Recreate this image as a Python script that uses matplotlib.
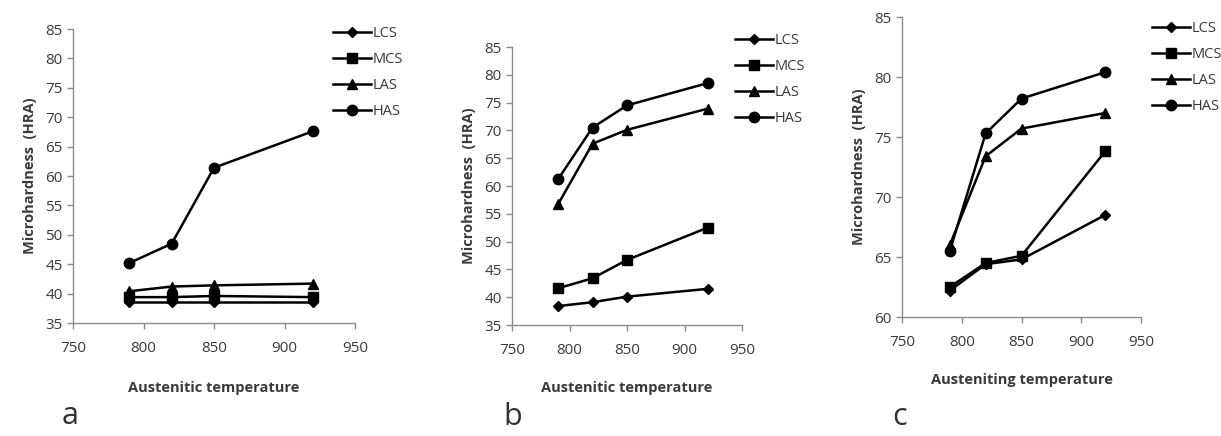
import matplotlib
matplotlib.use("Agg")
import matplotlib.pyplot as plt

plt.rcParams['font.family'] = ['Open Sans', 'DejaVu Sans']

temps = [790, 820, 850, 920]
series = ["LCS", "MCS", "LAS", "HAS"]
markers = {"LCS": "D", "MCS": "s", "LAS": "^", "HAS": "o"}
msizes = {"LCS": 5, "MCS": 7, "LAS": 7, "HAS": 7.5}

# panel a
a_lcs = [38.5, 38.5, 38.5, 38.5]
a_mcs = [39.4, 39.4, 39.6, 39.4]
a_las = [40.4, 41.2, 41.4, 41.7]
a_has = [45.2, 48.5, 61.4, 67.6]
# panel b
b_lcs = [38.4, 39.1, 40.1, 41.5]
b_mcs = [41.6, 43.4, 46.7, 52.5]
b_las = [56.7, 67.6, 70.1, 73.9]
b_has = [61.2, 70.5, 74.5, 78.5]
# panel c
c_lcs = [62.2, 64.4, 64.8, 68.5]
c_mcs = [62.5, 64.5, 65.1, 73.8]
c_las = [66.0, 73.4, 75.7, 77.0]
c_has = [65.5, 75.3, 78.2, 80.4]

xlabels = ["Austenitic temperature", "Austenitic temperature", "Austeniting temperature"]
letters = ["a", "b", "c"]

W, H = 1221, 436
fig = plt.figure(figsize=(W / 100, H / 100), dpi=100)

def px(l, t, r, b):
    return [l / W, 1 - b / H, (r - l) / W, (b - t) / H]

panels = [
    dict(rect=px(73, 29, 355, 323), data=[a_lcs, a_mcs, a_las, a_has], ylim=(35, 85), yticks=range(35, 86, 5),
         leg=(333, 26), letter=(62, 424), xl_y=388),
    dict(rect=px(512, 47, 742, 325), data=[b_lcs, b_mcs, b_las, b_has], ylim=(35, 85), yticks=range(35, 86, 5),
         leg=(735, 33), letter=(503, 425), xl_y=388),
    dict(rect=px(902, 17, 1141, 317), data=[c_lcs, c_mcs, c_las, c_has], ylim=(60, 85), yticks=range(60, 86, 5),
         leg=(1152, 21), letter=(892, 425), xl_y=380),
]

gray = "#8c8c8c"
txt = "#3a3a3a"
for i, p in enumerate(panels):
    ax = fig.add_axes(p["rect"])
    for name, vals in zip(series, p["data"]):
        ax.plot(temps, vals, color="black", lw=1.8, marker=markers[name],
                ms=msizes[name], label=name)
    ax.set_xlim(750, 950)
    ax.set_ylim(*p["ylim"])
    ax.set_xticks(range(750, 951, 50))
    ax.set_yticks(list(p["yticks"]))
    for s in ["top", "right"]:
        ax.spines[s].set_visible(False)
    for s in ["left", "bottom"]:
        ax.spines[s].set_color(gray)
        ax.spines[s].set_linewidth(1.0)
    ax.tick_params(colors=gray, labelcolor=txt, labelsize=11, length=4, width=1.0)
    ax.tick_params(axis="x", pad=9)
    ax.set_ylabel("Microhardness  (HRA)", fontsize=10.5, fontweight="bold", color=txt, labelpad=6)
    fig.text(((p["rect"][0] + p["rect"][2] / 2)), 1 - p["xl_y"] / H, xlabels[i],
             fontsize=10.5, fontweight="bold", color=txt, ha="center", va="center")
    lx, ly = p["leg"]
    ax.legend(loc="upper left", bbox_to_anchor=(lx / W, 1 - ly / H), bbox_transform=fig.transFigure,
              frameon=False, fontsize=10.5, handlelength=2.6, labelspacing=0.75,
              handletextpad=0.15, borderpad=0, borderaxespad=0, labelcolor=txt)
    fig.text(p["letter"][0] / W, 1 - p["letter"][1] / H, letters[i], fontsize=22, color="#333333",
             ha="left", va="baseline")

fig.savefig("out.png", dpi=100, facecolor="white")
